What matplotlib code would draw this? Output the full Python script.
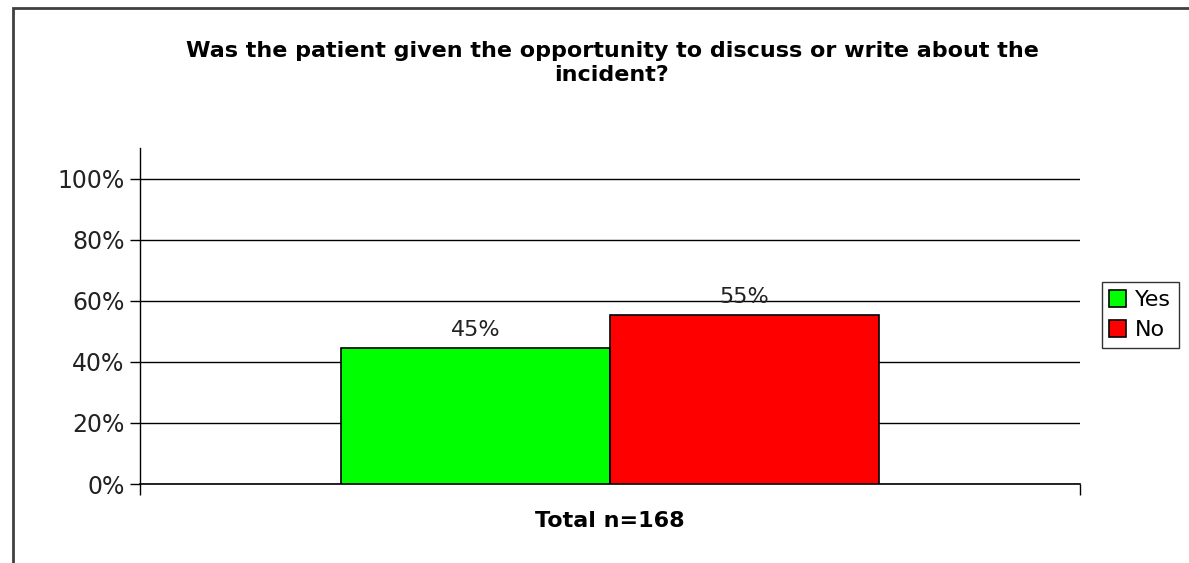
import numpy as np
import matplotlib.pyplot as plt
from matplotlib.patches import Rectangle

answers = ['Yes', 'No']
shares = [44.6, 55.4]
bar_colors = ['#00ff00', '#ff0000']
yticks = [0, 20, 40, 60, 80, 100]
title = 'Was the patient given the opportunity to discuss or write about the\nincident?'
xlabel = 'Total n=168'

fig = plt.figure(figsize=(11.89, 5.63), dpi=100)
# outer chart border (clipped at right and bottom like the reference)
fig.patches.append(Rectangle((13 / 1189, -0.1), 1.2, 1 - 8 / 563 + 0.1,
                             transform=fig.transFigure, fill=False,
                             edgecolor='#404040', linewidth=2))

ax = fig.add_axes([140 / 1189, 1 - 484 / 563, 940 / 1189, (484 - 148) / 563])
width = 0.286
xs = [-width / 2, width / 2]
for x, v, c, lab in zip(xs, shares, bar_colors, answers):
    ax.bar(x, v, width, color=c, edgecolor='black', linewidth=1.2, label=lab, zorder=3)
    ax.text(x, v + 2.5, '%d%%' % round(v), ha='center', va='bottom',
            fontsize=16, color='#222222')

ax.set_xlim(-0.5, 0.5)
ax.set_ylim(0, 110)
ax.set_yticks(yticks)
ax.set_yticklabels(['%d%%' % t for t in yticks], fontsize=17, color='#222222')
ax.yaxis.grid(True, color='black', linewidth=1)
ax.set_axisbelow(True)
ax.set_xticks([-0.5, 0.5])
ax.set_xticklabels([])
ax.tick_params(axis='y', length=7, width=1, pad=4)
ax.tick_params(axis='x', length=8, width=1, direction='out')
for s in ['top', 'right']:
    ax.spines[s].set_visible(False)
ax.spines['left'].set_linewidth(1)
ax.spines['bottom'].set_linewidth(1.2)

fig.text(610 / 1189, 1 - 521 / 563, xlabel, ha='center', va='center',
         fontsize=16, fontweight='bold')
fig.text(612 / 1189, 1 - 63 / 563, title, ha='center', va='center',
         fontsize=16, fontweight='bold', linespacing=1.2)

leg = ax.legend(loc='upper left', bbox_to_anchor=(1.023, 0.6), fontsize=16,
                frameon=True, fancybox=False, edgecolor='black', handlelength=0.75,
                handleheight=0.75, handletextpad=0.4, borderpad=0.35,
                labelspacing=0.45, borderaxespad=0)
leg.get_frame().set_linewidth(1)

fig.savefig('out.png', dpi=100)
